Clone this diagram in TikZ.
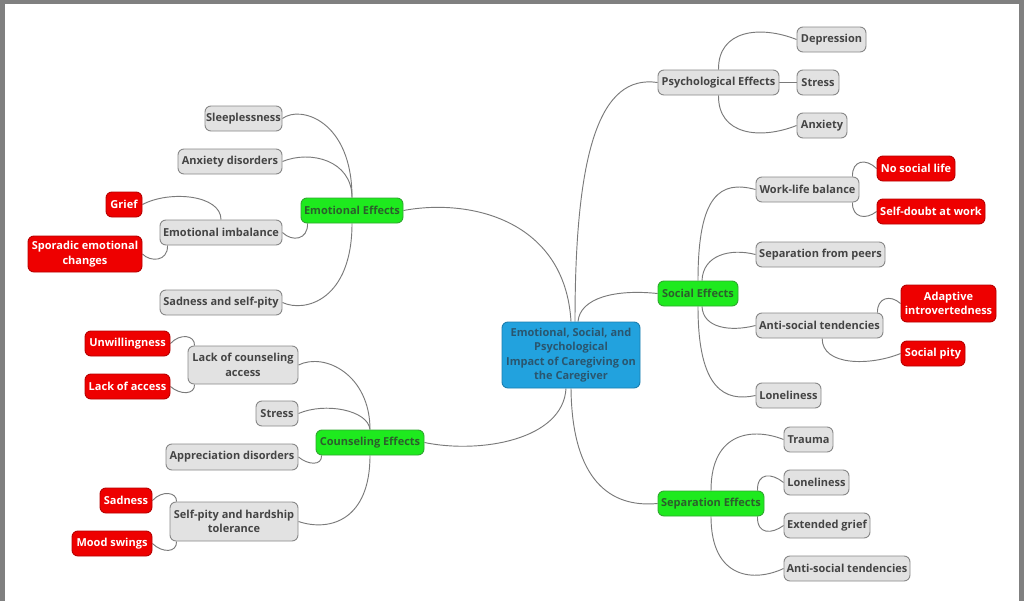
\documentclass[tikz,border=0pt]{standalone}
\usepackage{fontspec}
\setmainfont{Open Sans}
\definecolor{framegray}{HTML}{808080}
\definecolor{linegray}{HTML}{7A7A7A}
\definecolor{boxgray}{HTML}{E2E2E2}
\definecolor{boxgrayb}{HTML}{888888}
\definecolor{txtgray}{HTML}{444444}
\definecolor{lime}{HTML}{1EEA1E}
\definecolor{limeb}{HTML}{2FA82F}
\definecolor{txtgreen}{HTML}{2C5E2C}
\definecolor{redf}{HTML}{EE0000}
\definecolor{redb}{HTML}{B80000}
\definecolor{bluef}{HTML}{22A2DE}
\definecolor{blueb}{HTML}{1A7EB0}
\definecolor{txtblue}{HTML}{2A566F}
\pgfdeclarelayer{bg}
\pgfsetlayers{bg,main}
\tikzset{
  box/.style={rounded corners=4.5pt, line width=0.7pt, inner sep=0pt, align=center,
    font=\fontsize{8.25pt}{10.9pt}\selectfont\bfseries, minimum height=18.75pt},
  bw/.style={minimum width=#1*0.75pt},
  bh/.style={minimum height=#1*0.75pt},
  gbox/.style={box, fill=boxgray, draw=boxgrayb, text=txtgray},
  grbox/.style={box, fill=lime, draw=limeb, text=txtgreen},
  rbox/.style={box, fill=redf, draw=redb, text=white},
  cbox/.style={box, fill=bluef, draw=blueb, text=txtblue},
  edge/.style={draw=linegray, line width=0.7pt}
}
\begin{document}
\begin{tikzpicture}[x=0.75pt,y=-0.75pt]
\useasboundingbox (0,0) rectangle (1024,601);
% centre
\node[cbox, bw=138, bh=66] (c) at (571,355) {Emotional, Social, and\\Psychological\\Impact of Caregiving on\\the Caregiver};
% right side
\node[gbox, bw=121] (psy) at (718.5,82.5) {Psychological Effects};
\node[gbox, bw=69] (dep) at (831.5,39.5) {Depression};
\node[gbox, bw=42] (str1) at (818,82.5) {Stress};
\node[gbox, bw=50] (anx) at (822,125.5) {Anxiety};
\node[grbox, bw=80] (soc) at (698,293.5) {Social Effects};
\node[gbox, bw=103] (wlb) at (807.5,189.5) {Work-life balance};
\node[rbox, bw=78] (nsl) at (916,168.5) {No social life};
\node[rbox, bw=108] (sdw) at (931,211.5) {Self-doubt at work};
\node[gbox, bw=129] (sfp) at (820.5,254.5) {Separation from peers};
\node[gbox, bw=127] (ast) at (819.5,325.5) {Anti-social tendencies};
\node[rbox, bw=95, bh=37] (ai) at (948.5,303.5) {Adaptive\\introvertedness};
\node[rbox, bw=64] (spi) at (933,353.5) {Social pity};
\node[gbox, bw=65] (lon1) at (788.5,395.5) {Loneliness};
\node[grbox, bw=106] (se) at (711,503.5) {Separation Effects};
\node[gbox, bw=49] (tra) at (808.5,439.5) {Trauma};
\node[gbox, bw=65] (lon2) at (816.5,482.5) {Loneliness};
\node[gbox, bw=86] (eg) at (827,525.5) {Extended grief};
\node[gbox, bw=126] (ast2) at (847,568.5) {Anti-social tendencies};
% left side
\node[grbox, bw=102] (emo) at (352,210.5) {Emotional Effects};
\node[gbox, bw=77] (slp) at (243.5,118.5) {Sleeplessness};
\node[gbox, bw=104] (anxd) at (230,161.5) {Anxiety disorders};
\node[gbox, bw=122] (emi) at (221,232.5) {Emotional imbalance};
\node[rbox, bw=36] (gri) at (124,204.5) {Grief};
\node[rbox, bw=114, bh=36] (spo) at (85,254) {Sporadic emotional\\changes};
\node[gbox, bw=122] (sad) at (221,302.5) {Sadness and self-pity};
\node[grbox, bw=108] (cou) at (370,442.5) {Counseling Effects};
\node[gbox, bw=110, bh=38] (lca) at (243,365) {Lack of counseling\\access};
\node[rbox, bw=85] (unw) at (127.5,343.5) {Unwillingness};
\node[rbox, bw=85] (lac) at (127.5,386.5) {Lack of access};
\node[gbox, bw=42] (str2) at (277,413.5) {Stress};
\node[gbox, bw=132, bh=26] (app) at (232,457) {Appreciation disorders};
\node[gbox, bw=128, bh=39] (spt) at (234,521.5) {Self-pity and hardship\\tolerance};
\node[rbox, bw=52] (sadn) at (126,500.5) {Sadness};
\node[rbox, bw=80] (mood) at (112,543.5) {Mood swings};
\begin{pgfonlayer}{bg}
\fill[framegray] (0,0) rectangle (1024,601);
\fill[white] (5,4) rectangle (1019,601);
% centre edges
\draw[edge] ([xshift=3pt]c.north) .. controls (575,150) and (600,74) .. (psy.west);
\draw[edge] ([xshift=5.25pt]c.north) .. controls (580,298) and (615,289) .. (soc.west);
\draw[edge] (c.south) .. controls (572,480) and (610,508) .. (se.west);
\draw[edge] (c.north) .. controls (565,220) and (470,198) .. (emo.east);
\draw[edge] ([xshift=-3.75pt]c.south) .. controls (563,440) and (480,454) .. (cou.east);
% psychological
\draw[edge] (psy.north) .. controls (718,30) and (760,25) .. (dep.west);
\draw[edge] (psy.east) -- (str1.west);
\draw[edge] (psy.south) .. controls (718,135) and (760,140) .. (anx.west);
% social
\draw[edge] (soc.north) .. controls (698,195) and (720,180) .. (wlb.west);
\draw[edge] ([xshift=3pt]soc.north) .. controls (703,255) and (730,248) .. (sfp.west);
\draw[edge] ([xshift=3pt]soc.south) .. controls (703,328) and (730,332) .. (ast.west);
\draw[edge] (soc.south) .. controls (698,390) and (725,402) .. (lon1.west);
\draw[edge] ([xshift=-5.25pt]wlb.north east) .. controls (852,160) and (866,158) .. (nsl.west);
\draw[edge] ([xshift=-5.25pt]wlb.south east) .. controls (852,218) and (866,220) .. (sdw.west);
\draw[edge] ([xshift=-4.5pt]ast.north east) .. controls (877,298) and (890,294) .. (ai.west);
\draw[edge] ([xshift=2pt]ast.south) .. controls (822,366) and (870,366) .. (spi.west);
% separation
\draw[edge] (se.north) .. controls (711,430) and (755,428) .. (tra.west);
\draw[edge] ([xshift=-5.25pt]se.north east) .. controls (757,472) and (772,473) .. (lon2.west);
\draw[edge] ([xshift=-5.25pt]se.south east) .. controls (757,535) and (772,534) .. (eg.west);
\draw[edge] (se.south) .. controls (711,580) and (755,582) .. (ast2.west);
% emotional
\draw[edge] (emo.north) .. controls (352,120) and (300,105) .. (slp.east);
\draw[edge] (emo.north) .. controls (352,160) and (310,150) .. (anxd.east);
\draw[edge] ([xshift=5.25pt]emo.south west) .. controls (308,240) and (292,242) .. (emi.east);
\draw[edge] (emo.south) .. controls (352,300) and (305,313) .. (sad.east);
\draw[edge] (emi.north) .. controls (221,195) and (170,190) .. (gri.east);
\draw[edge] ([xshift=6pt]emi.south west) .. controls (168,262) and (150,262) .. (spo.east);
% counseling
\draw[edge] (cou.north) .. controls (370,375) and (325,352) .. (lca.east);
\draw[edge] (cou.north) .. controls (368,410) and (325,402) .. (str2.east);
\draw[edge] ([xshift=4.5pt]cou.south west) .. controls (322,466) and (308,465) .. (app.east);
\draw[edge] (cou.south) .. controls (370,520) and (330,532) .. (spt.east);
\draw[edge] ([xshift=5.25pt]lca.north west) .. controls (195,335) and (180,333) .. (unw.east);
\draw[edge] ([xshift=5.25pt]lca.south west) .. controls (195,395) and (180,395) .. (lac.east);
\draw[edge] ([xshift=5.25pt]spt.north west) .. controls (177,492) and (162,490) .. (sadn.east);
\draw[edge] ([xshift=5.25pt]spt.south west) .. controls (177,553) and (162,553) .. (mood.east);
\end{pgfonlayer}
\end{tikzpicture}
\end{document}
